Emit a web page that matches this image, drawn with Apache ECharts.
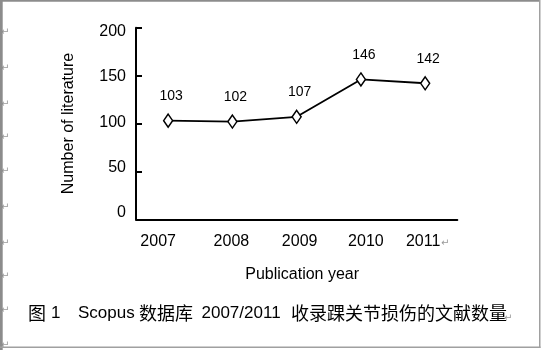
<!DOCTYPE html>
<html>
<head>
<meta charset="utf-8">
<title>Scopus 2007/2011</title>
<script src="https://cdn.jsdelivr.net/npm/echarts@6.0.0/dist/echarts.min.js"></script>
<style>
    html, body { margin: 0; padding: 0; background: #fff; }
    #chart { width: 544px; height: 350px; }
</style>
</head>
<body>
<div id="chart"></div>
<script>
    // data
    const years = ['2007', '2008', '2009', '2010', '2011']
    const counts = [103, 102, 107, 146, 142]
    const yTicks = [0, 50, 100, 150, 200]

    const latin = 'Liberation Sans, Arial, sans-serif'
    const cjk = 'Noto Sans CJK SC, sans-serif'
    const markColor = '#9a9a9a'

    // year labels in the original are not quite centred on their slots
    const labelShift = [-10, -1, 3, 5, -2]
    const yearRich = {}
    labelShift.forEach((d, i) => {
        yearRich['s' + i] = {
            fontSize: 16, fontFamily: latin, color: '#000',
            padding: d < 0 ? [0, -2 * d, 0, 0] : [0, 0, 0, 2 * d]
        }
    })

    // Word paragraph marks down the left edge
    const leftMarks = [34, 70, 106, 139, 173, 209, 245, 278, 312, 347].map(y => ({
        type: 'text', left: 1, top: y - 7, z: 1,
        style: { text: '↵', fontSize: 10, fontFamily: 'DejaVu Sans', fill: markColor }
    }))

    function captionPiece(text, x, font, size){
        return {
            type: 'text', x: x, y: 313,
            style: { text: text, fontSize: size, fontFamily: font, fill: '#000', verticalAlign: 'middle' }
        }
    }

    const chartInstance = echarts.init(document.getElementById('chart'), null, { renderer: 'canvas' })

    const option = {
        backgroundColor: '#fff',
        animation: false,
        grid: { left: 136, right: 86.7, top: 27.7, bottom: 130.7 },
        xAxis: {
            type: 'category',
            data: years,
            boundaryGap: true,
            axisLine: { lineStyle: { color: '#000', width: 2 } },
            axisTick: { inside: true, length: 9, lineStyle: { color: '#000', width: 2 } },
            axisLabel: {
                interval: 0,
                margin: 14,
                formatter: (v, i) => '{s' + i + '|' + v + '}',
                rich: yearRich
            },
            name: 'Publication year',
            nameLocation: 'middle',
            nameGap: 47,
            nameTextStyle: { fontSize: 16, fontFamily: latin, color: '#000', padding: [0, 0, 0, 11] }
        },
        yAxis: [
            {
                type: 'value',
                min: 0,
                max: 200,
                interval: 50,
                axisLine: { show: true, lineStyle: { color: '#000', width: 2 } },
                axisTick: { show: true, inside: true, length: 6, lineStyle: { color: '#000', width: 2 } },
                axisLabel: { show: false },
                splitLine: { show: false },
                name: 'Number of literature',
                nameLocation: 'middle',
                nameGap: 59,
                nameTextStyle: { fontSize: 16, fontFamily: latin, color: '#000' }
            },
            {
                // label-only axis: the printed tick labels sit slightly off the ticks
                type: 'value',
                position: 'left',
                min: -7.3,
                max: 204.4,
                axisLine: { show: false },
                axisTick: { show: false },
                splitLine: { show: false },
                axisLabel: {
                    customValues: yTicks,
                    margin: 10,
                    fontSize: 16,
                    fontFamily: latin,
                    color: '#000'
                }
            }
        ],
        series: [
            {
                type: 'line',
                yAxisIndex: 0,
                data: counts,
                symbol: 'diamond',
                symbolSize: [9, 13],
                lineStyle: { color: '#000', width: 1.8 },
                itemStyle: { color: '#fff', borderColor: '#000', borderWidth: 1.5 },
                label: {
                    show: true,
                    position: 'top',
                    distance: 10,
                    offset: [3, 0],
                    fontSize: 14,
                    fontFamily: latin,
                    color: '#000'
                }
            }
        ],
        graphic: [
            ...leftMarks,
            // frame
            { type: 'rect', shape: { x: 0, y: 0, width: 2.7, height: 350 }, style: { fill: '#8c8c8c' }, z: 5 },
            { type: 'rect', shape: { x: 0, y: 0, width: 540, height: 1.7 }, style: { fill: '#8c8c8c' }, z: 5 },
            { type: 'rect', shape: { x: 539, y: 0, width: 1.5, height: 348 }, style: { fill: '#a0a0a0' }, z: 5 },
            { type: 'rect', shape: { x: 0, y: 346.5, width: 540.5, height: 1.5 }, style: { fill: '#a0a0a0' }, z: 5 },
            // mark after last year label
            { type: 'text', x: 441, y: 243, style: { text: '↵', fontSize: 10, fontFamily: 'DejaVu Sans', fill: markColor, verticalAlign: 'middle' } },
            // caption
            captionPiece('图', 28, cjk, 18),
            captionPiece('1', 51, latin, 17),
            captionPiece('Scopus', 78, latin, 17),
            captionPiece('数据库', 139, cjk, 18),
            captionPiece('2007/2011', 201.5, latin, 17),
            captionPiece('收录踝关节损伤的文献数量', 291, cjk, 18),
            { type: 'text', x: 504, y: 318, style: { text: '↵', fontSize: 10, fontFamily: 'DejaVu Sans', fill: markColor, verticalAlign: 'middle' } }
        ]
    }

    chartInstance.setOption(option)
</script>
</body>
</html>
